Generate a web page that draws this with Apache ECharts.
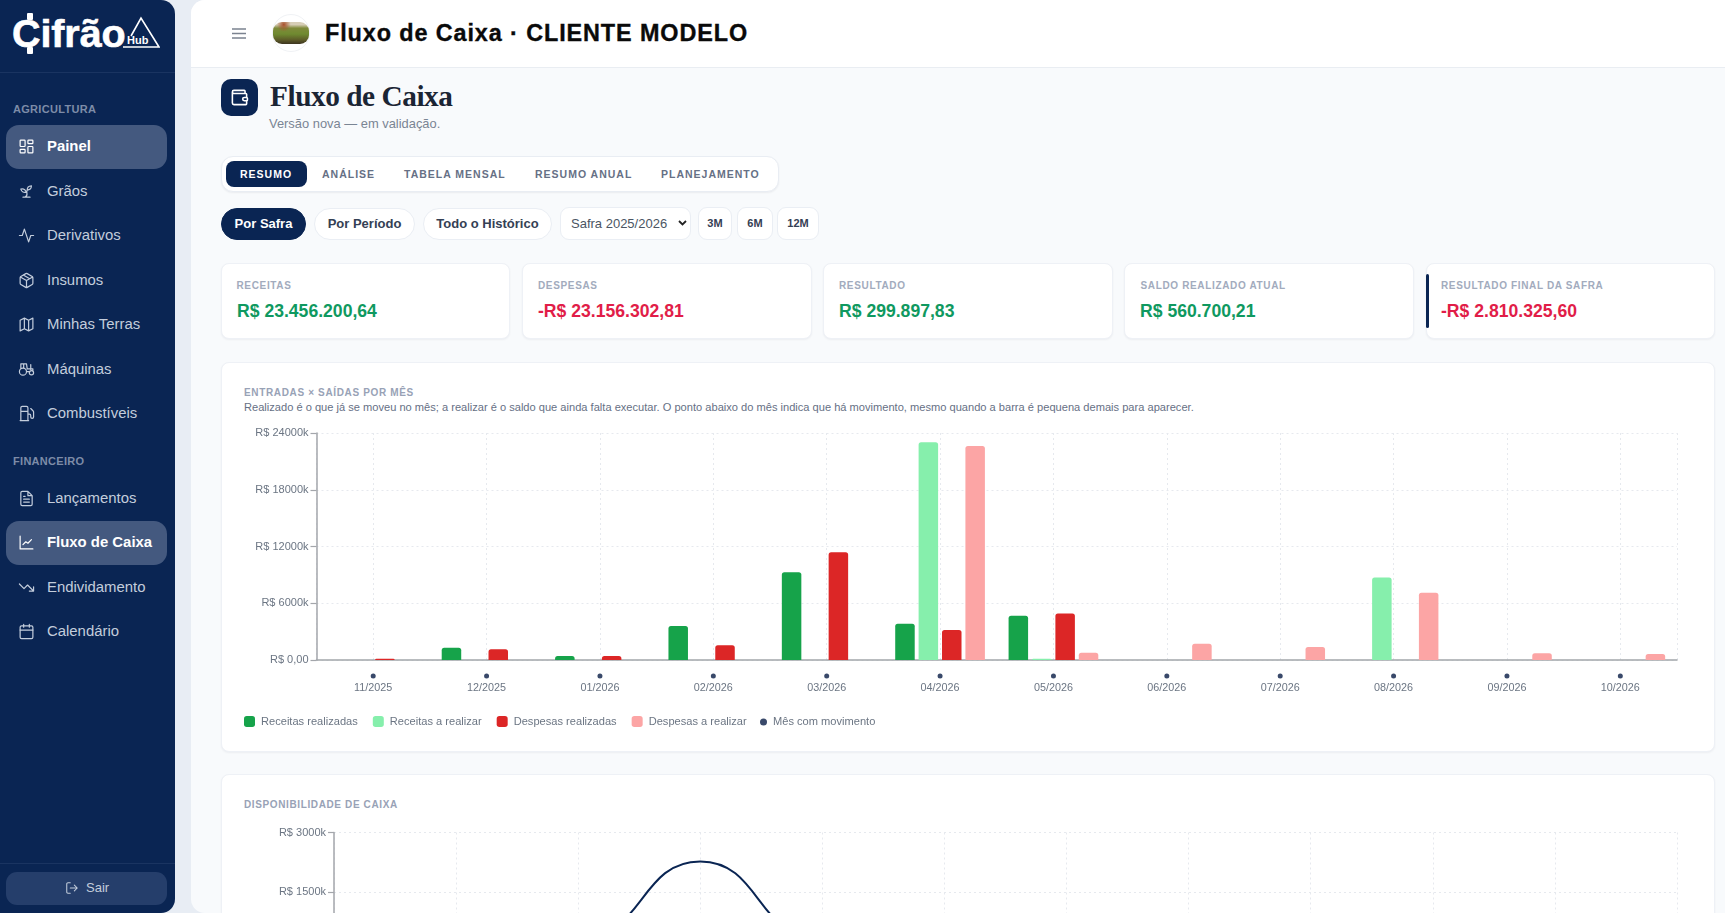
<!DOCTYPE html>
<html lang="pt-BR">
<head>
<meta charset="utf-8">
<title>Fluxo de Caixa</title>
<script src="https://cdn.jsdelivr.net/npm/echarts@6/dist/echarts.min.js"></script>
<style>
html,body{margin:0;padding:0;width:1725px;height:913px;overflow:hidden;background:#e8edf4;font-family:"Liberation Sans",Arial,sans-serif;}
.a{position:absolute;white-space:nowrap;}
#sidebar{position:absolute;left:0;top:0;width:175px;height:913px;background:#0a2553;border-radius:0 14px 14px 0;}
#main{position:absolute;left:191px;top:0;width:1534px;height:913px;background:#f8fafc;border-radius:14px 0 0 14px;overflow:hidden;}
#page{position:absolute;left:0;top:0;width:1725px;height:913px;overflow:hidden;}
.nav{position:absolute;left:47px;font-size:14.9px;color:#c3cddc;height:20px;line-height:20px;}
.nav.on{color:#fff;font-weight:bold;}
.navIco{position:absolute;left:18px;width:17px;height:17px;fill:none;stroke:#c3cddc;stroke-width:1.7;stroke-linecap:round;stroke-linejoin:round;}
.sec{position:absolute;left:13px;font-size:11px;font-weight:bold;color:#7d8ca8;letter-spacing:.3px;}
.navBg{position:absolute;left:6px;width:161px;height:44px;border-radius:13px;background:#44597f;}
.tab{position:absolute;top:166px;font-size:10.5px;font-weight:bold;letter-spacing:1px;color:#667085;line-height:16px;white-space:nowrap;}
.pill{position:absolute;box-sizing:border-box;background:#fff;border:1px solid #eaeef4;text-align:center;font-size:13px;font-weight:bold;color:#344054;white-space:nowrap;}
.card{position:absolute;box-sizing:border-box;background:#fff;border:1px solid #eef1f6;border-radius:8px;box-shadow:0 1px 2px rgba(16,24,40,.05);}
.kLabel{position:absolute;font-size:10px;font-weight:bold;letter-spacing:.65px;color:#a2abbd;white-space:nowrap;top:285.500px;margin-top:-7px;line-height:14px;}
.kVal{position:absolute;font-size:17.6px;font-weight:bold;white-space:nowrap;top:311px;margin-top:-11px;line-height:22px;}
</style>
</head>
<body>
<div id="page">
  <div id="sidebar"></div>
  <div id="main"></div>

  <!-- header -->
  <div class="a" style="left:191px;top:0;width:1534px;height:67px;background:#fff;border-bottom:1px solid #e9edf2;border-radius:14px 0 0 0;"></div>
  <svg class="a" style="left:232px;top:27px" width="15" height="13" fill="none" stroke="#7b8390" stroke-width="1.6"><path d="M0 2h14M0 6.500h14M0 11h14"/></svg>
  <div class="a" style="left:272px;top:14px;width:38px;height:38px;border-radius:50%;border:1px solid #f0f2f5;box-sizing:border-box;background:#fff;"></div>
  <div class="a" style="left:273px;top:22px;width:36px;height:22px;border-radius:9px;background:radial-gradient(circle at 30% 12%,#a8502c 0,rgba(168,80,44,0) 22%),linear-gradient(#d6cdb6 0,#d6cdb6 12%,#7f8a3a 28%,#6f8a30 55%,#5c5a28 82%,#3c3420 100%);"></div>
  <div class="a" id="topTitle" style="left:325px;top:20px;font-size:23.400px;font-weight:bold;color:#0a0a0a;letter-spacing:.9px;line-height:26px;-webkit-text-stroke:.35px #0a0a0a;">Fluxo de Caixa · CLIENTE MODELO</div>

  <!-- heading -->
  <div class="a" style="left:221px;top:79px;width:37px;height:37px;background:#0a2553;border-radius:10px;"></div>
  <svg class="a" style="left:230px;top:88px" width="19" height="19" viewBox="0 0 24 24" fill="none" stroke="#fff" stroke-width="2" stroke-linecap="round" stroke-linejoin="round"><path d="M19 7V4a1 1 0 0 0-1-1H5a2 2 0 0 0 0 4h15a1 1 0 0 1 1 1v4h-3a2 2 0 0 0 0 4h3a1 1 0 0 0 1-1v-2a1 1 0 0 0-1-1M3 5v14a2 2 0 0 0 2 2h15a1 1 0 0 0 1-1v-4"/></svg>
  <div class="a" style="left:270px;top:78px;font-family:'Liberation Serif',serif;font-weight:bold;font-size:29.300px;letter-spacing:-.45px;color:#1b2534;line-height:36px;">Fluxo de Caixa</div>
  <div class="a" style="left:269px;top:116px;font-size:12.900px;color:#7a8594;line-height:16px;">Versão nova — em validação.</div>

  <!-- tabs -->
  <div class="a" style="left:221px;top:156px;width:558px;height:36px;box-sizing:border-box;background:#fff;border:1px solid #e9edf3;border-radius:12px;box-shadow:0 1px 2px rgba(16,24,40,.06);"></div>
  <div class="a" style="left:226px;top:161px;width:81px;height:26px;background:#0a2553;border-radius:8px;"></div>
  <div class="tab" style="left:240px;color:#fff;">RESUMO</div>
  <div class="tab" style="left:322px;">ANÁLISE</div>
  <div class="tab" style="left:404px;">TABELA MENSAL</div>
  <div class="tab" style="left:535px;">RESUMO ANUAL</div>
  <div class="tab" style="left:661px;">PLANEJAMENTO</div>

  <!-- filtros -->
  <div class="pill" style="left:221px;top:208px;width:85px;height:32px;line-height:30px;border-radius:16px;background:#0a2553;border-color:#0a2553;color:#fff;">Por Safra</div>
  <div class="pill" style="left:314px;top:208px;width:101px;height:32px;line-height:30px;border-radius:16px;">Por Período</div>
  <div class="pill" style="left:423px;top:208px;width:129px;height:32px;line-height:30px;border-radius:16px;">Todo o Histórico</div>
  <div class="pill" style="left:560px;top:207px;width:131px;height:33px;line-height:31px;border-radius:9px;font-weight:normal;color:#4b5563;text-align:left;padding-left:10px;">Safra 2025/2026</div>
  <svg class="a" style="left:678px;top:220px" width="9" height="7" fill="none" stroke="#222" stroke-width="1.8"><path d="M1 1l3.500 3.500L8 1"/></svg>
  <div class="pill" style="left:698px;top:207px;width:34px;height:33px;line-height:31px;border-radius:9px;font-size:11px;">3M</div>
  <div class="pill" style="left:737px;top:207px;width:36px;height:33px;line-height:31px;border-radius:9px;font-size:11px;">6M</div>
  <div class="pill" style="left:777px;top:207px;width:42px;height:33px;line-height:31px;border-radius:9px;font-size:11px;">12M</div>

  <!-- kpis -->
  <div class="card" style="left:221px;top:263px;width:289px;height:76px;"></div>
  <div class="kLabel" style="left:236.500px;">RECEITAS</div>
  <div class="kVal" style="left:237px;color:#0f9960;">R$ 23.456.200,64</div>
  <div class="card" style="left:522px;top:263px;width:290px;height:76px;"></div>
  <div class="kLabel" style="left:538px;">DESPESAS</div>
  <div class="kVal" style="left:538px;color:#e11d48;">-R$ 23.156.302,81</div>
  <div class="card" style="left:823px;top:263px;width:290px;height:76px;"></div>
  <div class="kLabel" style="left:839px;">RESULTADO</div>
  <div class="kVal" style="left:839px;color:#0f9960;">R$ 299.897,83</div>
  <div class="card" style="left:1124px;top:263px;width:290px;height:76px;"></div>
  <div class="kLabel" style="left:1140.500px;">SALDO REALIZADO ATUAL</div>
  <div class="kVal" style="left:1140px;color:#0f9960;">R$ 560.700,21</div>
  <div class="card" style="left:1426px;top:263px;width:289px;height:76px;"></div>
  <div class="a" style="left:1426px;top:274px;width:3px;height:54px;background:#0a2553;border-radius:2px;"></div>
  <div class="kLabel" style="left:1441px;">RESULTADO FINAL DA SAFRA</div>
  <div class="kVal" style="left:1441px;color:#e11d48;">-R$ 2.810.325,60</div>

  <!-- graficos -->
  <div class="card" style="left:221px;top:362px;width:1494px;height:390px;"></div>
  <div class="a" style="left:244px;top:385.500px;font-size:10px;font-weight:bold;letter-spacing:.65px;color:#98a2b6;line-height:14px;">ENTRADAS × SAÍDAS POR MÊS</div>
  <div class="a" style="left:244px;top:400px;font-size:11.100px;color:#667085;line-height:14px;">Realizado é o que já se moveu no mês; a realizar é o saldo que ainda falta executar. O ponto abaixo do mês indica que há movimento, mesmo quando a barra é pequena demais para aparecer.</div>
  <div class="a" id="chartFluxo" style="left:221px;top:415px;width:1494px;height:335px;"></div>

  <div class="card" style="left:221px;top:774px;width:1494px;height:420px;"></div>
  <div class="a" style="left:244px;top:798px;font-size:10px;font-weight:bold;letter-spacing:.62px;color:#98a2b6;line-height:14px;">DISPONIBILIDADE DE CAIXA</div>
  <div class="a" id="chartCaixa" style="left:221px;top:815px;width:1494px;height:300px;"></div>
</div>

<script>
var meses = ['11/2025','12/2025','01/2026','02/2026','03/2026','04/2026','05/2026','06/2026','07/2026','08/2026','09/2026','10/2026'];

// valores em R$ mil
var receitasRealizadas = [0, 1300, 420, 3590, 9290, 3836, 4680, 0, 0, 0, 0, 0];
var receitasARealizar  = [0, 0, 0, 0, 0, 23014, 140, 0, 0, 8727, 0, 0];
var despesasRealizadas = [140, 1130, 420, 1550, 11400, 3167, 4927, 0, 0, 0, 0, 0];
var despesasARealizar  = [0, 0, 0, 0, 0, 22630, 774, 1724, 1372, 7108, 704, 633];
var mesComMovimento    = [0, 0, 0, 0, 0, 0, 0, 0, 0, 0, 0, 0];
var disponibilidade    = [80, 230, 280, 2266, 280, 820, 560];

var navy = '#0a2553';
var ponto = '#071c45';
var eixo = '#a3a6ab';
var grade = '#e6e9ee';
var texto = '#6b7583';

// menu lateral
var icones = {
  painel: '<rect x="3" y="3" width="7" height="9" rx="1"/><rect x="14" y="3" width="7" height="5" rx="1"/><rect x="14" y="12" width="7" height="9" rx="1"/><rect x="3" y="16" width="7" height="5" rx="1"/>',
  graos: '<path d="M7 20h10M10 20c5.500-2.500.8-6.400 3-10M9.500 9.400c1.100.8 1.800 2.200 2.300 3.700-2 .4-3.500.4-4.800-.3-1.200-.6-2.300-1.900-3-4.200 2.800-.5 4.400 0 5.500.8zM14.100 6a7 7 0 0 0-1.100 4c1.900-.1 3.300-.6 4.300-1.400 1-1 1.600-2.300 1.700-4.600-2.700.1-4 1-4.900 2z"/>',
  derivativos: '<path d="M22 12h-4l-3 9L9 3l-3 9H2"/>',
  insumos: '<path d="M16.500 9.400 7.500 4.210M21 16V8a2 2 0 0 0-1-1.730l-7-4a2 2 0 0 0-2 0l-7 4A2 2 0 0 0 3 8v8a2 2 0 0 0 1 1.730l7 4a2 2 0 0 0 2 0l7-4A2 2 0 0 0 21 16zM3.270 6.960 12 12.010l8.730-5.050M12 22.080V12"/>',
  terras: '<path d="M3 6l6-3 6 3 6-3v15l-6 3-6-3-6 3zM9 3v15M15 6v15"/>',
  maquinas: '<path d="M4 11V4h8l1 7M8 10V4M18 5v7M2 15a5 5 0 0 1 10 0 5 5 0 0 1-10 0zM12 15h5M22 16.500a3 3 0 0 1-6 0 3 3 0 0 1 6 0zM13 11h8v3"/>',
  combustiveis: '<path d="M3 22h12M4 9h10M14 22V4a2 2 0 0 0-2-2H6a2 2 0 0 0-2 2v18M14 13h2a2 2 0 0 1 2 2v2a2 2 0 0 0 4 0V9.830a2 2 0 0 0-.59-1.420L18 5"/>',
  lancamentos: '<path d="M14 2H6a2 2 0 0 0-2 2v16a2 2 0 0 0 2 2h12a2 2 0 0 0 2-2V8zM14 2v6h6M16 13H8M16 17H8M10 9H8"/>',
  fluxo: '<path d="M3 3v18h18M7 15l4-4 3 2 5-5"/>',
  endividamento: '<path d="M22 17l-8.500-8.500-5 5L2 7M16 17h6v-6"/>',
  calendario: '<rect x="3" y="4" width="18" height="18" rx="2"/><path d="M16 2v4M8 2v4M3 10h18"/>'
};
var menu = [
  ['Painel', 146, 'painel', true], ['Grãos', 191, 'graos'], ['Derivativos', 235, 'derivativos'],
  ['Insumos', 280, 'insumos'], ['Minhas Terras', 324, 'terras'], ['Máquinas', 369, 'maquinas'],
  ['Combustíveis', 413, 'combustiveis'], ['Lançamentos', 498, 'lancamentos'],
  ['Fluxo de Caixa', 542, 'fluxo', true], ['Endividamento', 587, 'endividamento'], ['Calendário', 631, 'calendario']
];
var html = '';
html += '<div class="a" style="left:12px;top:10px;font-size:39.500px;font-weight:bold;color:#fff;line-height:46px;letter-spacing:-.1px;-webkit-text-stroke:.6px #fff;">Cifrão</div>';
html += '<div class="a" style="left:27px;top:13px;width:6px;height:7px;background:#fff;border-radius:1px;"></div>';
html += '<div class="a" style="left:27px;top:47px;width:6px;height:7px;background:#fff;border-radius:1px;"></div>';
html += '<svg class="a" style="left:123px;top:16px" width="37" height="33" fill="none" stroke="#fff" stroke-width="1.600"><path d="M1 31h-1M0 31h36L18 2 8 20"/></svg>';
html += '<div class="a" style="left:127px;top:33px;font-size:11px;font-weight:bold;color:#fff;line-height:14px;">Hub</div>';
html += '<div class="a" style="left:0;top:72px;width:175px;height:1px;background:#1a3461;"></div>';
html += '<div class="sec" style="top:103px;">AGRICULTURA</div><div class="sec" style="top:455px;">FINANCEIRO</div>';
menu.forEach(function (m) {
  if (m[3]) html += '<div class="navBg" style="top:' + (m[1] - 21) + 'px;"></div>';
  html += '<svg class="navIco" viewBox="0 0 24 24" style="top:' + (m[1] - 8) + 'px;' + (m[3] ? 'stroke:#fff;' : '') + '">' + icones[m[2]] + '</svg>';
  html += '<div class="nav' + (m[3] ? ' on' : '') + '" style="top:' + (m[1] - 10) + 'px;">' + m[0] + '</div>';
});
html += '<div class="a" style="left:0;top:863px;width:175px;height:1px;background:#1a3461;"></div>';
html += '<div class="a" style="left:6px;top:872px;width:161px;height:33px;background:#253e6b;border-radius:11px;"></div>';
html += '<svg class="a" style="left:65px;top:881px;fill:none;stroke:#c3cddc;stroke-width:1.8;stroke-linecap:round;stroke-linejoin:round" width="14" height="14" viewBox="0 0 24 24"><path d="M9 21H5a2 2 0 0 1-2-2V5a2 2 0 0 1 2-2h4M16 17l5-5-5-5M21 12H9"/></svg>';
html += '<div class="a" style="left:86px;top:880px;font-size:13px;color:#c3cddc;line-height:16px;">Sair</div>';
document.getElementById('sidebar').innerHTML = html;

// entradas x saidas por mes
var chartFluxo = echarts.init(document.getElementById('chartFluxo'));
function barra(nome, dados, cor) {
  return {
    name: nome, type: 'bar', data: dados, barWidth: 19.5, barGap: '20%', barCategoryGap: 0,
    itemStyle: { color: cor, borderRadius: [2.5, 2.5, 0, 0] }
  };
}
chartFluxo.setOption({
  animation: false,
  textStyle: { fontFamily: 'Liberation Sans' },
  grid: { left: 95.5, top: 18, width: 1360.5, height: 227 },
  legend: [{
    left: 18, top: 296, itemWidth: 11, itemHeight: 11, itemGap: 15, icon: 'roundRect',
    textStyle: { fontSize: 11.1, color: texto, padding: [0, 0, 0, 1] },
    data: ['Receitas realizadas', 'Receitas a realizar', 'Despesas realizadas', 'Despesas a realizar']
  }, {
    left: 534, top: 296.5, itemWidth: 7, itemHeight: 7, icon: 'circle',
    textStyle: { fontSize: 11.1, color: texto, padding: [0, 0, 0, 1] },
    data: ['Mês com movimento']
  }],
  xAxis: [{
    type: 'category', data: meses,
    axisLine: { lineStyle: { color: eixo, width: 1.5 } },
    axisTick: { alignWithLabel: true, length: 6, lineStyle: { color: eixo, width: 1.2 } },
    axisLabel: { color: texto, fontSize: 10.8, margin: 23 },
    splitLine: { show: true, alignWithLabel: true, lineStyle: { color: grade, type: [2, 3] } }
  }, {
    // so para a linha tracejada na borda direita
    type: 'value', min: 0, max: 1, interval: 1, position: 'top',
    axisLine: { show: false }, axisTick: { show: false }, axisLabel: { show: false },
    splitLine: { show: true, lineStyle: { color: grade, type: [2, 3] } }
  }],
  yAxis: {
    type: 'value', min: 0, max: 24000, interval: 6000,
    axisLine: { show: true, lineStyle: { color: eixo, width: 1.5 } },
    axisTick: { show: true, length: 6, lineStyle: { color: eixo, width: 1.2 } },
    axisLabel: {
      color: texto, fontSize: 11, margin: 8,
      formatter: function (v) { return v === 0 ? 'R$ 0,00' : 'R$ ' + v + 'k'; }
    },
    splitLine: { lineStyle: { color: grade, type: [2, 3] } }
  },
  series: [
    barra('Receitas realizadas', receitasRealizadas, '#16a34a'),
    barra('Receitas a realizar', receitasARealizar, '#86efac'),
    barra('Despesas realizadas', despesasRealizadas, '#dc2626'),
    barra('Despesas a realizar', despesasARealizar, '#fca5a5'),
    {
      name: 'Mês com movimento', type: 'scatter', data: mesComMovimento, clip: false,
      symbol: 'circle', symbolSize: 5, symbolOffset: [0, 16], z: 5,
      itemStyle: { color: ponto }
    }
  ]
});

// disponibilidade de caixa
var chartCaixa = echarts.init(document.getElementById('chartCaixa'));
chartCaixa.setOption({
  animation: false,
  textStyle: { fontFamily: 'Liberation Sans' },
  grid: { left: 113, top: 17.5, width: 1343, height: 237 },
  xAxis: {
    type: 'category', data: meses, boundaryGap: false,
    axisLine: { lineStyle: { color: eixo, width: 1.5 }, onZero: false },
    axisTick: { length: 6, lineStyle: { color: eixo } },
    axisLabel: { color: texto, fontSize: 10.8 },
    splitLine: { show: true, lineStyle: { color: grade, type: [2, 3] } }
  },
  yAxis: {
    type: 'value', min: -3000, max: 3000, interval: 1500,
    axisLine: { show: true, lineStyle: { color: eixo, width: 1.5 } },
    axisTick: { show: true, length: 6, lineStyle: { color: eixo, width: 1.2 } },
    axisLabel: {
      color: texto, fontSize: 11, margin: 8,
      formatter: function (v) { return v === 0 ? 'R$ 0,00' : 'R$ ' + v + 'k'; }
    },
    splitLine: { lineStyle: { color: grade, type: [2, 3] } }
  },
  series: [{
    name: 'Disponibilidade', type: 'line', data: disponibilidade, smooth: 0.5,
    showSymbol: false, lineStyle: { color: navy, width: 2 }
  }]
});
</script>
</body>
</html>
